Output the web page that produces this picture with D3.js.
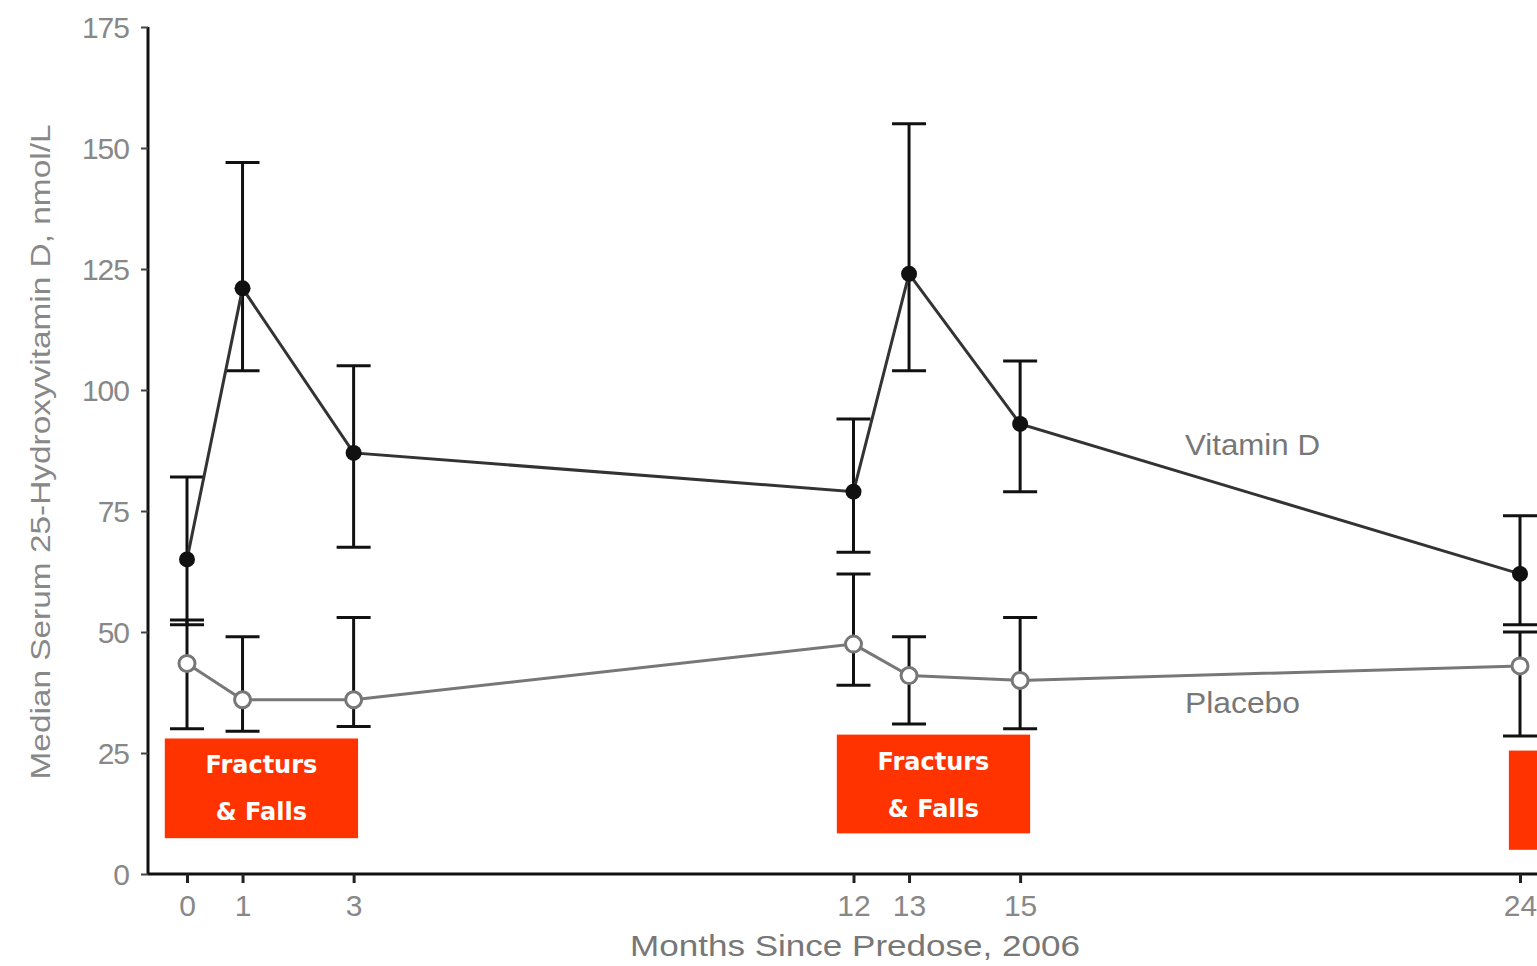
<!DOCTYPE html>
<html><head><meta charset="utf-8">
<script src="https://cdn.jsdelivr.net/npm/d3@7"></script>
<style>body{margin:0;background:#fff;overflow:hidden}svg{display:block}</style>
</head><body>
<svg id="c" width="1537" height="966"></svg>
<script>
const months = [0, 1, 3, 12, 13, 15, 24];
const vitD = [65, 121, 87, 79, 124, 93, 62];
const vitDHi = [82, 147, 105, 94, 155, 106, 74];
const vitDLo = [51.5, 104, 67.5, 66.5, 104, 79, 51.5];
const placebo = [43.5, 36, 36, 47.5, 41, 40, 43];
const placeboHi = [52.5, 49, 53, 62, 49, 53, 50];
const placeboLo = [30, 29.5, 30.5, 39, 31, 30, 28.5];
const yTicks = [0, 25, 50, 75, 100, 125, 150, 175];
const xTicks = [0, 1, 3, 12, 13, 15, 24];
// annotation boxes in data units: [startMonth, endMonth, topValue, bottomValue]
const boxStart = [-0.4, 11.7, 23.8];
const boxEnd = [3.08, 15.18, 27.3];
const boxTop = [28, 28.8, 25.5];
const boxBottom = [7.4, 8.4, 5];

const svg = d3.select('#c');
const x = d3.scaleLinear().domain([0, 24]).range([187, 1520]);
const y = d3.scaleLinear().domain([0, 175]).range([874, 27]);
const textFont = "'Liberation Sans', Arial, sans-serif";

// red annotation boxes
boxStart.forEach((s, i) => {
  svg.append('rect').attr('x', x(s)).attr('y', y(boxTop[i]))
    .attr('width', x(boxEnd[i]) - x(s)).attr('height', y(boxBottom[i]) - y(boxTop[i]))
    .attr('fill', '#ff3300');
  if (i < 2) {
    const cx = (x(s) + x(boxEnd[i])) / 2;
    const ty = y(boxTop[i]);
    svg.append('text').attr('x', cx).attr('y', ty + 35).attr('text-anchor', 'middle')
      .attr('fill', '#fff').attr('font-family', "'Comic Sans MS','DejaVu Sans',sans-serif")
      .attr('font-weight', 'bold').attr('font-size', 24).text('Fracturs');
    svg.append('text').attr('x', cx).attr('y', ty + 82).attr('text-anchor', 'middle')
      .attr('fill', '#fff').attr('font-family', "'Comic Sans MS','DejaVu Sans',sans-serif")
      .attr('font-weight', 'bold').attr('font-size', 24).text('& Falls');
  }
});

// axes
const yAxis = d3.axisLeft(y).tickValues(yTicks).tickSize(7).tickPadding(12);
const gy = svg.append('g').attr('transform', 'translate(148,0)').call(yAxis);
gy.select('.domain').attr('stroke', '#111').attr('stroke-width', 3).attr('d', `M0,${y(175)}V${y(0)}`);
gy.selectAll('.tick line').attr('stroke', '#444').attr('stroke-width', 2);
gy.selectAll('.tick text').attr('fill', '#888').attr('font-family', textFont)
  .attr('font-size', 30).attr('letter-spacing', -1).attr('dy', '0.35em');

const xAxis = d3.axisBottom(x).tickValues(xTicks).tickSize(9).tickPadding(12);
const gx = svg.append('g').attr('transform', `translate(0,${y(0)})`).call(xAxis);
gx.select('.domain').attr('stroke', '#111').attr('stroke-width', 3).attr('d', `M148,0H1537`);
gx.selectAll('.tick line').attr('stroke', '#222').attr('stroke-width', 3);
gx.selectAll('.tick text').attr('fill', '#888').attr('font-family', textFont)
  .attr('font-size', 30).attr('letter-spacing', 0);

// axis titles
svg.append('text').attr('x', 855).attr('y', 956).attr('text-anchor', 'middle')
  .attr('fill', '#777').attr('font-family', textFont).attr('font-size', 29)
  .attr('textLength', 450).attr('lengthAdjust', 'spacingAndGlyphs')
  .text('Months Since Predose, 2006');
svg.append('text').attr('transform', 'translate(50,452) rotate(-90)').attr('text-anchor', 'middle')
  .attr('fill', '#888').attr('font-family', textFont).attr('font-size', 27)
  .attr('textLength', 655).attr('lengthAdjust', 'spacingAndGlyphs')
  .text('Median Serum 25-Hydroxyvitamin D, nmol/L');

// error bars
function errorBars(hi, lo) {
  const g = svg.append('g').attr('stroke', '#111').attr('stroke-width', 3);
  months.forEach((m, i) => {
    g.append('line').attr('x1', x(m)).attr('x2', x(m)).attr('y1', y(hi[i])).attr('y2', y(lo[i]));
    [hi[i], lo[i]].forEach(v => g.append('line').attr('x1', x(m) - 17).attr('x2', x(m) + 17)
      .attr('y1', y(v)).attr('y2', y(v)));
  });
}
errorBars(vitDHi, vitDLo);
errorBars(placeboHi, placeboLo);

const line = d3.line().x((d, i) => x(months[i])).y(d => y(d));
svg.append('path').datum(placebo).attr('d', line).attr('fill', 'none')
  .attr('stroke', '#777').attr('stroke-width', 3);
svg.append('path').datum(vitD).attr('d', line).attr('fill', 'none')
  .attr('stroke', '#333').attr('stroke-width', 3);

svg.append('g').selectAll('circle').data(placebo).join('circle')
  .attr('cx', (d, i) => x(months[i])).attr('cy', d => y(d)).attr('r', 8)
  .attr('fill', '#fff').attr('stroke', '#777').attr('stroke-width', 3);
svg.append('g').selectAll('circle').data(vitD).join('circle')
  .attr('cx', (d, i) => x(months[i])).attr('cy', d => y(d)).attr('r', 8)
  .attr('fill', '#111');

// series labels
svg.append('text').attr('x', 1185).attr('y', 455).attr('fill', '#777')
  .attr('font-family', textFont).attr('font-size', 29)
  .attr('textLength', 135).attr('lengthAdjust', 'spacingAndGlyphs').text('Vitamin D');
svg.append('text').attr('x', 1185).attr('y', 713).attr('fill', '#777')
  .attr('font-family', textFont).attr('font-size', 29)
  .attr('textLength', 115).attr('lengthAdjust', 'spacingAndGlyphs').text('Placebo');
</script>
</body></html>
